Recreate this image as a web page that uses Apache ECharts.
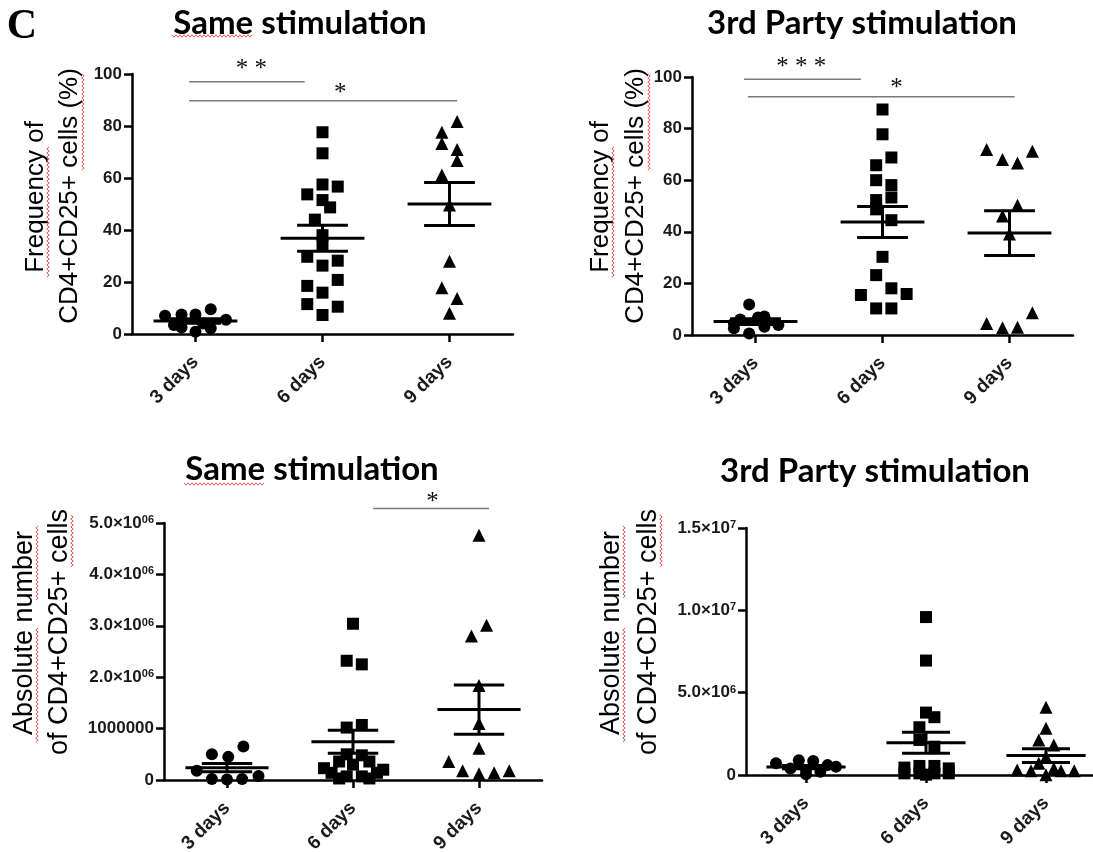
<!DOCTYPE html>
<html lang="en">
<head>
<meta charset="UTF-8">
<title>CD4+CD25+ cells after stimulation</title>
<script src="https://cdn.jsdelivr.net/npm/echarts@6.0.0/dist/echarts.min.js"></script>
<style>
  html, body { margin: 0; padding: 0; background: #fff; }
  #chart { width: 1093px; height: 852px; }
</style>
</head>
<body>
<div id="chart"></div>
<script>
const days = ['3 days', '6 days', '9 days'];

// each point: [horizontal spread around its day, value]
const freqSame3 = [[-0.24, 7.0], [-0.11, 7.5], [-0.11, 2.5], [0, 7.5], [0, 0.9], [0.12, 9.5], [0.12, 2.2], [0.24, 5.5], [0.06, 4.0], [-0.17, 3.5]];
const freqSame6 = [[0, 77.6], [0, 69.5], [0, 57.5], [0.12, 56.7], [-0.12, 53.7], [0, 51.5], [0.06, 48.7], [-0.06, 44.0], [0, 38.0], [0, 34.5],
  [-0.12, 29.7], [0.12, 28.2], [0, 26.3], [0.12, 20.8], [-0.12, 18.5], [0, 15.9], [-0.12, 11.5], [0.12, 10.5], [0, 7.3]];
const freqSame9 = [[0.06, 81.7], [-0.06, 77.6], [-0.06, 73.3], [0.06, 71.0], [0.06, 66.7], [-0.06, 61.2], [0, 49.6], [0, 28.0], [-0.06, 17.8], [0.06, 13.7], [0, 8.0]];
const freqSameMean = [5.0, 36.8, 50.0];
const freqSameSem = [0.9, 5.0, 8.3];

const freqThird3 = [[-0.05, 11.8], [-0.12, 6.0], [0.07, 7.2], [-0.17, 4.5], [-0.17, 2.6], [0.07, 3.2], [0.18, 3.9], [-0.05, 0.6], [0.02, 6.8]];
const freqThird6 = [[0, 87.4], [0, 77.8], [0.07, 68.8], [-0.05, 65.8], [-0.05, 60.0], [0.07, 58.1], [0.07, 53.3], [-0.05, 52.3], [-0.05, 48.7],
  [0.07, 44.5], [0, 30.3], [-0.05, 23.2], [0.07, 18.1], [-0.17, 15.5], [0.19, 15.9], [-0.05, 10.3], [0.07, 10.3]];
const freqThird9 = [[-0.18, 71.9], [-0.055, 68.0], [0.063, 66.7], [0.18, 71.2], [0.063, 50.3], [-0.055, 46.1], [0, 39.1], [0.18, 8.6], [-0.18, 4.5], [-0.055, 2.8], [0.063, 3.0]];
const freqThirdMean = [5.2, 43.8, 39.5];
const freqThirdSem = [1.1, 6.0, 8.7];

const absSame3 = [[-0.12, 5.0e5], [0.01, 4.5e5], [0.13, 6.5e5], [-0.24, 1.8e5], [-0.12, 2e4], [0, 1e4], [0.12, 2e4], [0.25, 8e4]];
const absSame6 = [[0, 3.04e6], [-0.05, 2.32e6], [0.07, 2.25e6], [-0.05, 1.02e6], [0.07, 1.07e6], [-0.05, 5.0e5], [0.07, 4.8e5], [-0.11, 3.6e5], [0.13, 3.6e5],
  [0, 3.0e5], [-0.23, 2.3e5], [0.24, 2.0e5], [-0.17, 1.4e5], [0.19, 1.4e5], [-0.05, 7e4], [0.07, 7e4], [-0.11, 3e4], [0.13, 3e4]];
const absSame9 = [[0, 4.76e6], [0.06, 3.01e6], [-0.06, 2.8e6], [0, 1.84e6], [0, 1.1e6], [0, 6.2e5], [-0.24, 3.6e5], [-0.13, 1.8e5], [0, 1.2e5], [0.12, 1.4e5], [0.24, 1.8e5]];
const absSameMean = [2.4e5, 7.45e5, 1.37e6];
const absSameSem = [8e4, 2.25e5, 4.8e5];

const absThird3 = [[-0.25, 7.1e5], [-0.06, 9.0e5], [0.06, 8.5e5], [0.18, 6.0e5], [0.25, 5.0e5], [-0.13, 4.0e5], [0, 3.0e5], [0.12, 2.0e5], [0, 5e4]];
const absThird6 = [[0, 9.59e6], [0, 6.95e6], [0, 3.79e6], [0.07, 3.51e6], [-0.055, 2.9e6], [-0.055, 2.13e6], [0.07, 1.72e6], [-0.18, 4.5e5],
  [-0.18, 1.0e5], [-0.055, 5.5e5], [0.07, 5.5e5], [0.19, 4.0e5], [0.19, 1.0e5], [-0.055, 1.0e5], [0.07, 1.0e5], [0, 2e4]];
const absThird9 = [[0, 4.12e6], [0, 2.84e6], [-0.06, 2.13e6], [0.065, 1.82e6], [0, 1.1e6], [-0.06, 7.1e5], [-0.24, 3.0e5], [-0.125, 2.6e5],
  [0, 2e4], [0.125, 2.6e5], [0.235, 2.6e5], [0.065, 4.0e5]];
const absThirdMean = [4.8e5, 1.96e6, 1.18e6];
const absThirdSem = [1.0e5, 6.4e5, 4.2e5];

// significance bars: [from, to, level, star x, star level, stars]
const sigFreqSame = [[0.95, 1.86, 97, 1.44, 103.5, '* *'], [0.95, 3.06, 89.7, 2.14, 94.6, '*']];
const sigFreqThird = [[0.91, 1.83, 99.1, 1.36, 105.8, '* * *'], [0.94, 3.04, 92.3, 2.11, 97.4, '*']];
const sigAbsSame = [[2.16, 3.08, 5.28e6, 2.63, 5.5e6, '*']];

const panels = [
  { groups: [freqSame3, freqSame6, freqSame9], mean: freqSameMean, sem: freqSameSem, sig: sigFreqSame, max: 100, interval: 20 },
  { groups: [freqThird3, freqThird6, freqThird9], mean: freqThirdMean, sem: freqThirdSem, sig: sigFreqThird, max: 100, interval: 20 },
  { groups: [absSame3, absSame6, absSame9], mean: absSameMean, sem: absSameSem, sig: sigAbsSame, max: 5e6, interval: 1e6 },
  { groups: [absThird3, absThird6, absThird9], mean: absThirdMean, sem: absThirdSem, sig: [], max: 1.5e7, interval: 5e6 }
];

const grids = [
  { left: 132, top: 74, width: 381, height: 260, outerBoundsMode: 'none' },
  { left: 692, top: 77, width: 381, height: 258, outerBoundsMode: 'none' },
  { left: 164, top: 523, width: 378, height: 257, outerBoundsMode: 'none' },
  { left: 746, top: 528, width: 360, height: 247, outerBoundsMode: 'none' }
];

const symbols = ['circle', 'rect', 'triangle'];
const symbolSizes = [12, 12, 13];
const labelFont = { fontFamily: 'Liberation Sans', fontWeight: 'bold', fontSize: 17, color: '#1a1a1a' };

function sciLabel(v, panel) {
  if (v === 0) return '0';
  if (panel === 2) {
    if (v === 1e6) return '1000000';
    return (v / 1e6).toFixed(1) + '×10{s|06}';
  }
  if (v >= 1e7) return (v / 1e7).toFixed(1) + '×10{s|7}';
  return (v / 1e6).toFixed(1) + '×10{s|6}';
}

function meanSem(params, api) {
  const x = api.value(0), m = api.value(1), s = api.value(2);
  const unit = api.size([1, 0])[0];
  const c = api.coord([x, m]);
  const hi = api.coord([x, m + s]);
  const lo = api.coord([x, m - s]);
  const style = { stroke: '#000', lineWidth: 3 };
  const h = (p, w) => ({ type: 'line', shape: { x1: p[0] - w * unit, y1: p[1], x2: p[0] + w * unit, y2: p[1] }, style });
  return {
    type: 'group',
    children: [
      h(c, 0.33), h(hi, 0.2), h(lo, 0.2),
      { type: 'line', shape: { x1: c[0], y1: hi[1], x2: c[0], y2: lo[1] }, style }
    ]
  };
}

function sigBar(sig) {
  return function (params, api) {
    const d = sig[params.dataIndex];
    const a = api.coord([d[0], d[2]]);
    const b = api.coord([d[1], d[2]]);
    const t = api.coord([d[3], d[4]]);
    return {
      type: 'group',
      children: [
        { type: 'line', shape: { x1: a[0], y1: a[1], x2: b[0], y2: b[1] }, style: { stroke: '#7a7a7a', lineWidth: 1.5 } },
        { type: 'text', x: t[0], y: t[1] + 5, style: {
          text: d[5], fill: '#111', font: '25px "Liberation Serif"',
          align: 'center', verticalAlign: 'middle', textAlign: 'center', textVerticalAlign: 'middle' } }
      ]
    };
  };
}

const xAxes = [], yAxes = [], series = [];
panels.forEach((p, i) => {
  xAxes.push({
    gridIndex: i, type: 'value', min: 0.5, max: 3.5,
    splitLine: { show: false },
    axisLine: { lineStyle: { color: '#000', width: 2.5 } },
    axisTick: { customValues: [1, 2, 3], length: 8, lineStyle: { color: '#000', width: 2.5 } },
    axisLabel: Object.assign({}, labelFont, { customValues: [1, 2, 3], rotate: 45, margin: 25, fontSize: 19, formatter: v => days[v - 1] })
  });
  const yLabel = Object.assign({ margin: 10 }, labelFont);
  if (i >= 2) {
    yLabel.formatter = v => sciLabel(v, i);
    yLabel.rich = { s: { fontFamily: 'Liberation Sans', fontWeight: 'bold', fontSize: 11, color: '#1a1a1a', verticalAlign: 'top' } };
  }
  yAxes.push({
    gridIndex: i, type: 'value', min: 0, max: p.max, interval: p.interval,
    splitLine: { show: false },
    axisLine: { show: true, lineStyle: { color: '#000', width: 2.5 } },
    axisTick: { show: true, length: 8, lineStyle: { color: '#000', width: 2.5 } },
    axisLabel: yLabel
  });
  p.groups.forEach((g, d) => {
    series.push({
      type: 'scatter', xAxisIndex: i, yAxisIndex: i,
      symbol: symbols[d], symbolSize: symbolSizes[d],
      itemStyle: { color: '#000', opacity: 1 },
      data: g.map(([o, v]) => [d + 1 + o, v])
    });
  });
  series.push({
    type: 'custom', xAxisIndex: i, yAxisIndex: i, renderItem: meanSem,
    data: p.mean.map((m, d) => [d + 1, m, p.sem[d]]), z: 3
  });
  if (p.sig.length) {
    series.push({
      type: 'custom', xAxisIndex: i, yAxisIndex: i, renderItem: sigBar(p.sig), clip: false,
      data: p.sig.map(s => [s[0], s[2]])
    });
  }
});

function txt(text, x, y, font, rot) {
  return {
    type: 'text', x, y, rotation: rot || 0,
    style: { text, font, fill: '#000', align: 'center', verticalAlign: 'middle', textAlign: 'center', textVerticalAlign: 'middle' }
  };
}

// red spell-check squiggle under a word, from (x1, y1) to (x2, y2)
function squiggle(x1, y1, x2, y2) {
  const len = Math.hypot(x2 - x1, y2 - y1);
  const ux = (x2 - x1) / len, uy = (y2 - y1) / len;
  const pts = [];
  for (let s = 0, k = 0; s <= len; s += 2, k++) {
    const off = k % 2 ? 1.2 : -1.2;
    pts.push([x1 + ux * s - uy * off, y1 + uy * s + ux * off]);
  }
  return { type: 'polyline', shape: { points: pts }, style: { stroke: '#e8403a', lineWidth: 0.9, fill: null }, z: 10 };
}

const titleFont = 'bold 33px Lato';
const nameFont = '26px "Liberation Sans"';
const nameFontBig = '27px "Liberation Sans"';
const R = Math.PI / 2;

const chart = echarts.init(document.getElementById('chart'));
chart.setOption({
  animation: false,
  backgroundColor: '#fff',
  grid: grids,
  xAxis: xAxes,
  yAxis: yAxes,
  series,
  graphic: [
    txt('C', 22, 27, 'bold 42px "Liberation Serif"'),
    txt('Same stimulation', 300, 23, titleFont),
    txt('3rd Party stimulation', 862, 23, titleFont),
    txt('Same stimulation', 312, 469, titleFont),
    txt('3rd Party stimulation', 875, 471, titleFont),
    txt('Frequency of', 36, 197, nameFont, R),
    txt('CD4+CD25+ cells (%)', 70, 196, nameFont, R),
    txt('Frequency of', 601, 197, nameFont, R),
    txt('CD4+CD25+ cells (%)', 636, 196, nameFont, R),
    txt('Absolute number', 25, 633, nameFontBig, R),
    txt('of CD4+CD25+ cells', 60, 632, nameFontBig, R),
    txt('Absolute number', 612, 633, nameFontBig, R),
    txt('of CD4+CD25+ cells', 649, 632, nameFontBig, R),
    squiggle(172, 36, 252, 36),
    squiggle(184, 484, 264, 484),
    squiggle(48, 277, 48, 147),
    squiggle(83, 170, 83, 74),
    squiggle(613, 277, 613, 147),
    squiggle(649, 170, 649, 74),
    squiggle(37, 742, 37, 627),
    squiggle(37, 600, 37, 525),
    squiggle(72, 567, 72, 514),
    squiggle(624, 742, 624, 627),
    squiggle(624, 598, 624, 525),
    squiggle(661, 567, 661, 514)
  ]
});
</script>
</body>
</html>
